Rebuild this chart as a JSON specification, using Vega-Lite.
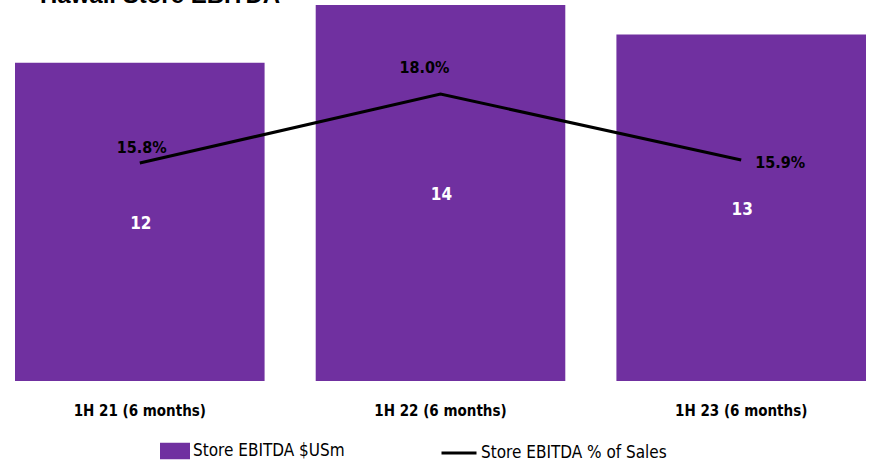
{
  "$schema": "https://vega.github.io/schema/vega-lite/v6.json",
  "width": 851,
  "height": 376,
  "padding": {"left": 15, "top": -16, "right": 3, "bottom": 0},
  "title": {"text": "Hawaii Store EBITDA", "anchor": "start", "dx": 25, "fontSize": 24, "font": "Liberation Sans", "fontWeight": "bold", "offset": -3, "color": "#000000"},
  "config": {
    "view": {"stroke": null},
    "axis": {"grid": false},
    "legend": {"labelFont": "DejaVu Sans Condensed", "labelFontSize": 17, "labelColor": "#000000", "title": null, "labelLimit": 400}
  },
  "data": {
    "values": [
      {"period": "1H 21 (6 months)", "ebitda": 11.85, "pct": 0.158},
      {"period": "1H 22 (6 months)", "ebitda": 14.0, "pct": 0.180},
      {"period": "1H 23 (6 months)", "ebitda": 12.9, "pct": 0.159}
    ]
  },
  "encoding": {
    "x": {
      "field": "period", "type": "nominal", "sort": null,
      "scale": {"paddingInner": 0.17, "paddingOuter": 0},
      "axis": {"title": null, "domain": false, "ticks": false, "labelAngle": 0, "labelFont": "DejaVu Sans Condensed", "labelFontWeight": "bold", "labelFontSize": 15, "labelColor": "#000000", "labelPadding": 22}
    }
  },
  "layer": [
    {
      "mark": {"type": "bar"},
      "encoding": {
        "y": {"field": "ebitda", "type": "quantitative", "scale": {"domain": [0, 14]}, "axis": null},
        "fill": {"datum": "Store EBITDA $USm", "type": "nominal", "scale": {"range": ["#7030A0"]},
          "legend": {"orient": "none", "legendX": 145, "legendY": 431, "symbolType": "M-1,-0.55H1V0.55H-1Z", "symbolSize": 900, "symbolStrokeWidth": 0, "labelOffset": 3, "padding": 0}}
      }
    },
    {
      "transform": [{"calculate": "datum.ebitda / 2", "as": "mid"}],
      "mark": {"type": "text", "color": "#ffffff", "fontWeight": "bold", "font": "DejaVu Sans Condensed", "fontSize": 17, "baseline": "middle", "dx": 1, "dy": 2},
      "encoding": {
        "y": {"field": "mid", "type": "quantitative", "scale": {"domain": [0, 14]}, "axis": null},
        "text": {"field": "ebitda", "type": "quantitative", "format": ".0f"}
      }
    },
    {
      "mark": {"type": "line", "strokeWidth": 3},
      "encoding": {
        "y": {"field": "pct", "type": "quantitative", "scale": {"domain": [0.0885, 0.2084]}, "axis": null},
        "stroke": {"datum": "Store EBITDA % of Sales", "type": "nominal", "scale": {"range": ["#000000"]},
          "legend": {"orient": "none", "legendX": 425, "legendY": 429, "symbolType": "stroke", "symbolSize": 1225, "symbolStrokeWidth": 3, "labelOffset": 3, "padding": 0}}
      }
    },
    {
      "transform": [{"filter": "datum.period == '1H 21 (6 months)'"}],
      "mark": {"type": "text", "color": "#000000", "fontWeight": "bold", "font": "DejaVu Sans Condensed", "fontSize": 16, "baseline": "middle", "dx": 2, "dy": -15},
      "encoding": {
        "y": {"field": "pct", "type": "quantitative", "scale": {"domain": [0.0885, 0.2084]}, "axis": null},
        "text": {"field": "pct", "type": "quantitative", "format": ".1%"}
      }
    },
    {
      "transform": [{"filter": "datum.period == '1H 22 (6 months)'"}],
      "mark": {"type": "text", "color": "#000000", "fontWeight": "bold", "font": "DejaVu Sans Condensed", "fontSize": 16, "baseline": "middle", "dx": -16, "dy": -26},
      "encoding": {
        "y": {"field": "pct", "type": "quantitative", "scale": {"domain": [0.0885, 0.2084]}, "axis": null},
        "text": {"field": "pct", "type": "quantitative", "format": ".1%"}
      }
    },
    {
      "transform": [{"filter": "datum.period == '1H 23 (6 months)'"}],
      "mark": {"type": "text", "color": "#000000", "fontWeight": "bold", "font": "DejaVu Sans Condensed", "fontSize": 16, "baseline": "middle", "dx": 39, "dy": 3},
      "encoding": {
        "y": {"field": "pct", "type": "quantitative", "scale": {"domain": [0.0885, 0.2084]}, "axis": null},
        "text": {"field": "pct", "type": "quantitative", "format": ".1%"}
      }
    }
  ],
  "resolve": {"scale": {"y": "independent", "fill": "independent", "stroke": "independent"}}
}
